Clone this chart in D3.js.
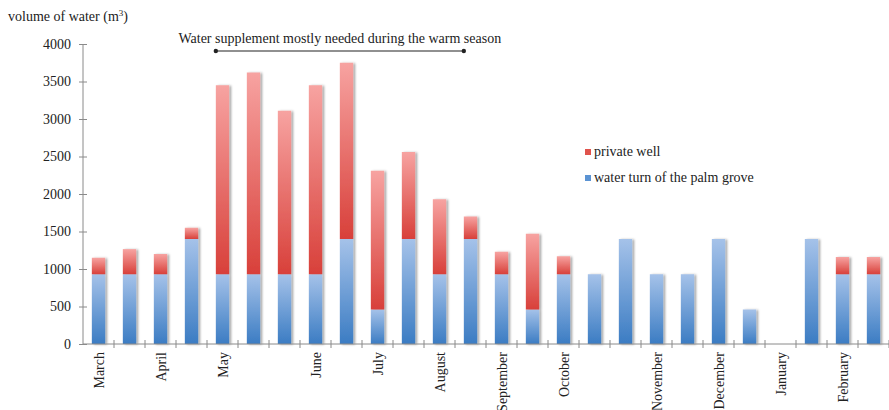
<!DOCTYPE html>
<html><head><meta charset="utf-8">
<script src="https://cdn.jsdelivr.net/npm/d3@7/dist/d3.min.js"></script>
<style>body{margin:0;background:#fff}svg{display:block}text{font-family:"Liberation Serif","Times New Roman",serif;fill:#222}</style>
</head><body><svg id="c" width="889" height="410"></svg>
<script>
const slots = d3.range(26);
const monthLabels = ["March","","April","","May","","","June","","July","","August","","September","","October","","","November","","December","","January","","February",""];
const palmGrove = [930,930,930,1400,930,930,930,930,1400,460,1400,930,1400,930,460,930,930,1400,930,930,1400,460,0,1400,930,930];
const totals =    [1150,1265,1200,1550,3450,3620,3110,3450,3750,2310,2560,1930,1700,1230,1470,1170,930,1400,930,930,1400,460,0,1400,1160,1160];
const privateWell = totals.map((t,i)=>t-palmGrove[i]);
const yTicks = [0,500,1000,1500,2000,2500,3000,3500,4000];
const FONT = "'Liberation Serif','Times New Roman',serif";

const svg = d3.select("#c");
const x = d3.scaleBand().domain(slots).range([83,889]).paddingInner(0.57).paddingOuter(0.285);
const xs = d3.scaleLinear().domain([0,26]).range([83,889]);
const y = d3.scaleLinear().domain([0,4000]).range([344,44]);

const defs = svg.append("defs");
const gb = defs.append("linearGradient").attr("id","gb").attr("x1",0).attr("y1",0).attr("x2",0).attr("y2",1);
gb.append("stop").attr("offset","0%").attr("stop-color","#a5c2e9");
gb.append("stop").attr("offset","100%").attr("stop-color","#3b7cc3");
const gr = defs.append("linearGradient").attr("id","gr").attr("x1",0).attr("y1",0).attr("x2",0).attr("y2",1);
gr.append("stop").attr("offset","0%").attr("stop-color","#f7a3a1");
gr.append("stop").attr("offset","100%").attr("stop-color","#d8403a");
const f = defs.append("filter").attr("id","sh").attr("x","-50%").attr("y","-10%").attr("width","200%").attr("height","120%");
f.append("feDropShadow").attr("dx",2).attr("dy",0.5).attr("stdDeviation",0.8).attr("flood-color","#000").attr("flood-opacity",0.35);

// axes
const yAx = svg.append("g").attr("transform","translate(83,0)")
  .call(d3.axisLeft(y).tickValues(yTicks).tickSize(4).tickPadding(8).tickFormat(d3.format("d")));
yAx.attr("font-family",FONT);
yAx.select(".domain").remove();
yAx.selectAll(".tick line").attr("x1",-4).attr("x2",4).attr("stroke","#8a8a8a");
yAx.selectAll("text").attr("font-size",14).attr("font-family",FONT).attr("fill","#222");
svg.append("line").attr("x1",83).attr("x2",83).attr("y1",y(4000)).attr("y2",y(0)).attr("stroke","#8a8a8a");

const bars = svg.append("g");
slots.forEach(i=>{
  const g = bars.append("g").attr("filter","url(#sh)");
  if (palmGrove[i]>0) g.append("rect").attr("x",x(i)).attr("width",x.bandwidth())
    .attr("y",y(palmGrove[i])).attr("height",y(0)-y(palmGrove[i])).attr("fill","url(#gb)");
  if (privateWell[i]>0) g.append("rect").attr("x",x(i)).attr("width",x.bandwidth())
    .attr("y",y(totals[i])).attr("height",y(palmGrove[i])-y(totals[i])).attr("fill","url(#gr)");
});

// x axis
svg.append("line").attr("x1",83).attr("x2",889).attr("y1",y(0)).attr("y2",y(0)).attr("stroke","#8a8a8a");
svg.append("g").selectAll("line").data(d3.range(1,27)).join("line")
  .attr("x1",d=>xs(d)).attr("x2",d=>xs(d)).attr("y1",y(0)-4).attr("y2",y(0)+4).attr("stroke","#8a8a8a");
svg.append("g").selectAll("text").data(slots.filter(i=>monthLabels[i])).join("text")
  .attr("transform",i=>`translate(${x(i)+x.bandwidth()/2+5},${y(0)+8}) rotate(-90)`)
  .attr("text-anchor","end").attr("font-size",14).attr("font-family",FONT).text(i=>monthLabels[i]);

// y title
const yt = svg.append("text").attr("x",8).attr("y",21).attr("font-size",14).attr("font-family",FONT);
yt.append("tspan").text("volume of water (m");
yt.append("tspan").attr("font-size",9).attr("dy",-5).text("3");
yt.append("tspan").attr("dy",5).text(")");

// annotation
const a1 = x(4), a2 = x(12);
svg.append("text").attr("x",(a1+a2)/2).attr("y",43).attr("text-anchor","middle").attr("font-size",14).attr("font-family",FONT)
  .text("Water supplement mostly needed during the warm season");
svg.append("line").attr("x1",a1).attr("x2",a2).attr("y1",51).attr("y2",51).attr("stroke","#222").attr("stroke-width",1.2);
svg.append("g").selectAll("circle").data([a1,a2]).join("circle").attr("cx",d=>d).attr("cy",51).attr("r",2.2).attr("fill","#222");

// legend
const legend = [{t:"private well",c:"#e0534c",y:156},{t:"water turn of the palm grove",c:"#5b93d3",y:182}];
const lg = svg.append("g").selectAll("g").data(legend).join("g");
lg.append("rect").attr("x",585).attr("y",d=>d.y-7).attr("width",6).attr("height",6).attr("fill",d=>d.c);
lg.append("text").attr("x",594).attr("y",d=>d.y).attr("font-size",14).attr("font-family",FONT).text(d=>d.t);
</script></body></html>
